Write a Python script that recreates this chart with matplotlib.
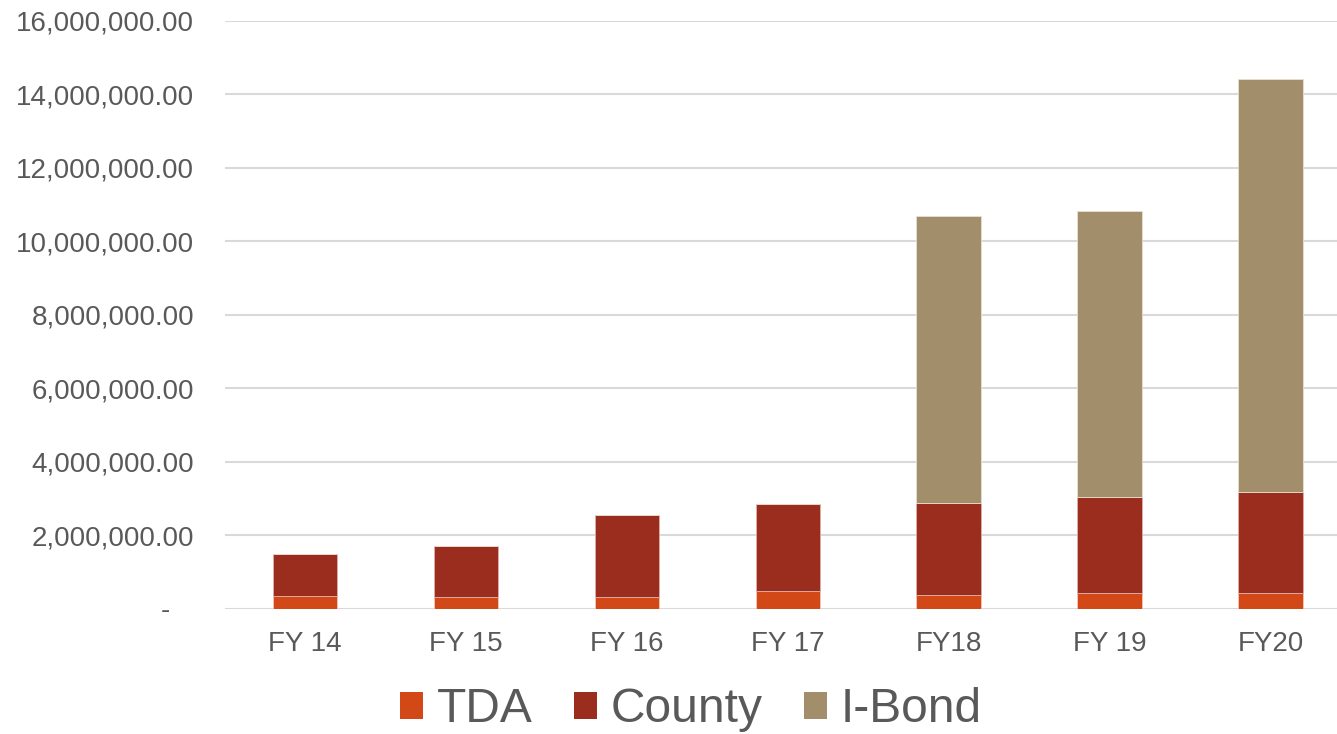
import matplotlib
matplotlib.use("Agg")
import matplotlib.pyplot as plt
from matplotlib.ticker import FuncFormatter, MultipleLocator
from matplotlib.patches import Patch

categories = ["FY 14", "FY 15", "FY 16", "FY 17", "FY18", "FY 19", "FY20"]
tda = [0.33e6, 0.31e6, 0.31e6, 0.49e6, 0.37e6, 0.42e6, 0.41e6]
county_total = [1.48e6, 1.70e6, 2.56e6, 2.84e6, 2.88e6, 3.03e6, 3.16e6]
grand_total = [1.48e6, 1.70e6, 2.56e6, 2.84e6, 10.69e6, 10.83e6, 14.43e6]
county = [c - t for c, t in zip(county_total, tda)]
ibond = [g - c for g, c in zip(grand_total, county_total)]

series_names = ["TDA", "County", "I-Bond"]
colors = ["#D34817", "#9B2D1F", "#A28E6A"]

plt.rcParams['font.family'] = ['Liberation Sans', 'DejaVu Sans']

W, H = 1337, 734
fig = plt.figure(figsize=(W / 100, H / 100), dpi=100)
left, right = 224.5, 1351
top, bottom = 21, 608.5
ax = fig.add_axes([left / W, 1 - bottom / H, (right - left) / W, (bottom - top) / H])

x = list(range(len(categories)))
bw = 0.4
ax.bar(x, tda, bw, color=colors[0], edgecolor="#F0C8B8", linewidth=0.6, zorder=3)
ax.bar(x, county, bw, bottom=tda, color=colors[1], edgecolor="#E0B0A8", linewidth=0.6, zorder=3)
ax.bar(x, ibond, bw, bottom=county_total, color=colors[2], edgecolor="#E8E0D0", linewidth=0.6, zorder=3)

ax.set_xlim(-0.5, len(categories) - 0.5)
ax.set_ylim(0, 16e6)
ax.yaxis.set_major_locator(MultipleLocator(2e6))
ax.yaxis.set_major_formatter(FuncFormatter(lambda v, p: "-   " if v == 0 else f"{v:,.2f}"))
ax.set_xticks(x)
ax.set_xticklabels(categories)
ax.grid(axis="y", color="#D9D9D9", linewidth=1.5, zorder=0)
ax.set_axisbelow(True)
for s in ax.spines.values():
    s.set_visible(False)
ax.tick_params(axis="both", length=0, labelsize=20, labelcolor="#595959")
ax.tick_params(axis="y", pad=22)
ax.tick_params(axis="x", pad=16)
for lbl in ax.get_yticklabels():
    lbl.set_horizontalalignment("right")

handles = [Patch(facecolor=c, edgecolor="none") for c in colors]
fig.legend(handles, series_names, loc="center", bbox_to_anchor=(691 / W, 1 - 710 / H),
           ncol=3, frameon=False, fontsize=34.5, labelcolor="#595959",
           handlelength=0.48, handleheight=0.48, handletextpad=0.3, columnspacing=0.85)

fig.savefig("out.png", dpi=100)
